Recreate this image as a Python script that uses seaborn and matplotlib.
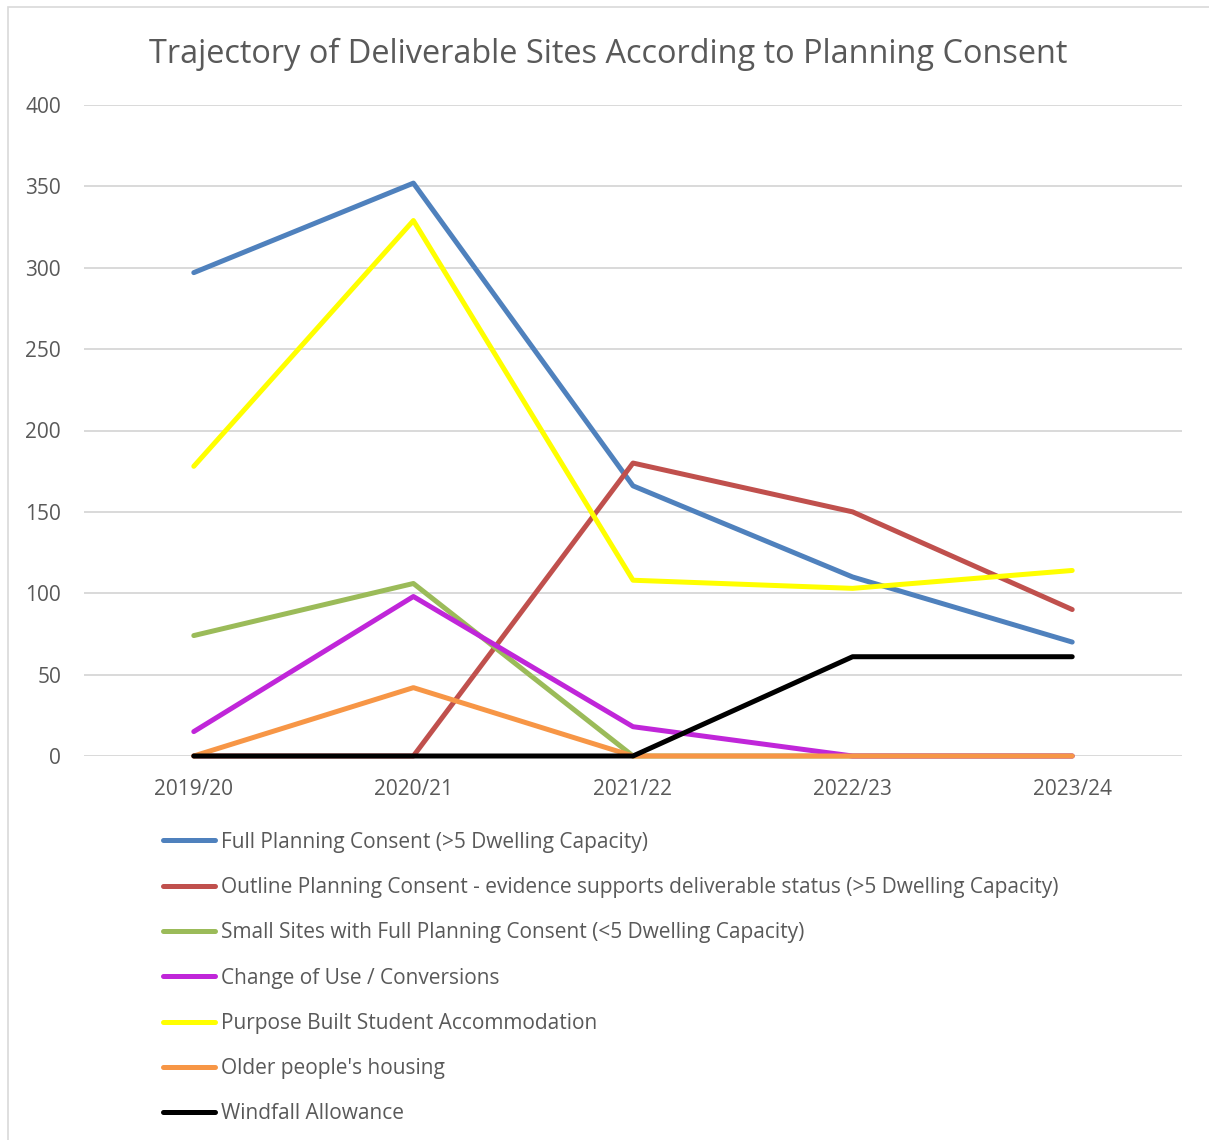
import matplotlib
matplotlib.use("Agg")
import matplotlib.pyplot as plt
import seaborn as sns
import pandas as pd
from matplotlib.patches import Rectangle
from matplotlib.lines import Line2D

years = ["2019/20", "2020/21", "2021/22", "2022/23", "2023/24"]
full_planning = [297, 352, 166, 110, 70]
outline_planning = [0, 0, 180, 150, 90]
small_sites = [74, 106, 0, 0, 0]
change_of_use = [15, 98, 18, 0, 0]
student_accommodation = [178, 329, 108, 103, 114]
older_housing = [0, 42, 0, 0, 0]
windfall = [0, 0, 0, 61, 61]

series_names = [
    "Full Planning Consent (>5 Dwelling Capacity)",
    "Outline Planning Consent - evidence supports deliverable status (>5 Dwelling Capacity)",
    "Small Sites with Full Planning Consent (<5 Dwelling Capacity)",
    "Change of Use / Conversions",
    "Purpose Built Student Accommodation",
    "Older people's housing",
    "Windfall Allowance",
]
series_values = [full_planning, outline_planning, small_sites, change_of_use,
                 student_accommodation, older_housing, windfall]
colors = ["#4F81BD", "#C0504D", "#9BBB59", "#C026D9", "#FFFF00", "#F79646", "#000000"]

rows = []
for name, vals in zip(series_names, series_values):
    for i, (y, v) in enumerate(zip(years, vals)):
        rows.append({"year": y, "pos": i, "value": v, "series": name})
df = pd.DataFrame(rows)

sns.set_theme(style="white")
plt.rcParams["font.family"] = ["Open Sans", "DejaVu Sans"]
text_color = "#595959"

fig = plt.figure(figsize=(12.09, 11.40), dpi=100)
ax = fig.add_axes([84 / 1209, 1 - 756 / 1140, 1098 / 1209, (756 - 105) / 1140])

sns.lineplot(data=df, x="pos", y="value", hue="series", hue_order=series_names,
             palette=colors, linewidth=3.6, sort=False, ax=ax, legend=False,
             solid_capstyle="round", solid_joinstyle="round")
for ln in ax.lines:
    ln.set_clip_on(False)

ax.set_xlim(-0.5, 4.5)
ax.set_ylim(0, 400)
ax.set_yticks(range(0, 401, 50))
ax.set_xticks(range(len(years)))
ax.set_xticklabels(years)
ax.set_xlabel("")
ax.set_ylabel("")
ax.grid(axis="y", color="#D9D9D9", linewidth=1.4)
ax.set_axisbelow(True)
for s in ax.spines.values():
    s.set_visible(False)
ax.tick_params(axis="both", length=0, labelsize=15, colors=text_color)
ax.tick_params(axis="y", pad=16.5)
ax.tick_params(axis="x", pad=16.5)

fig.text(608 / 1209, 1 - 54 / 1140, "Trajectory of Deliverable Sites According to Planning Consent",
         ha="center", va="center", fontsize=23.4, color=text_color)

handles = [Line2D([0], [0], color=c, linewidth=3.6, solid_capstyle="round") for c in colors]
leg = fig.legend(handles, series_names, loc="upper left",
                 bbox_to_anchor=(144 / 1209, 1 - 813 / 1140), frameon=False,
                 fontsize=15, handlelength=2.5, handletextpad=0.3, labelspacing=1.165,
                 labelcolor=text_color)

fig.patches.append(Rectangle((8 / 1209, -0.1), 1.2, 1 - 7 / 1140 + 0.1,
                             transform=fig.transFigure, fill=False,
                             edgecolor="#D9D9D9", linewidth=1.2))

fig.savefig("out.png", dpi=100, facecolor="white")
